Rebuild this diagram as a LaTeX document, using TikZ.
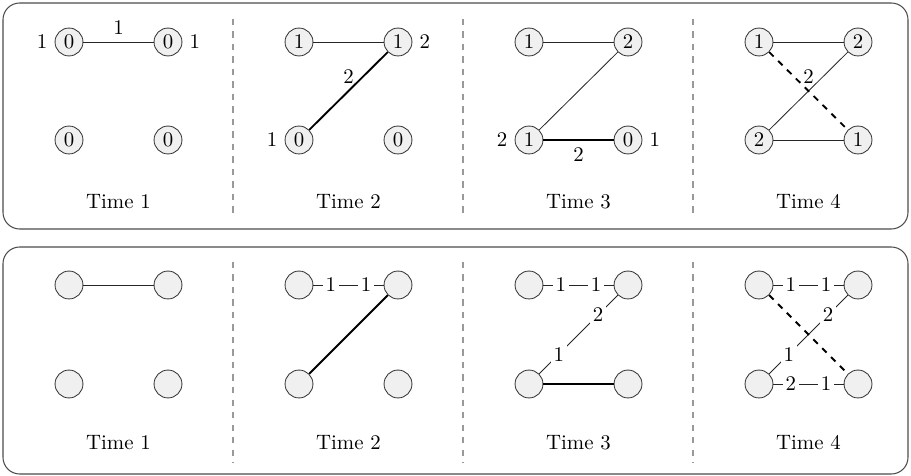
\documentclass[tikz,border=0pt]{standalone}
\usepackage{xcolor}
\usepackage{tikz}
\usetikzlibrary{positioning}

\begin{document}
\begin{tikzpicture}[
    x=0.48pt, y=-0.48pt,
    vnode/.style={circle, draw=black!80, fill=gray!12, minimum size=13.4pt, inner sep=0pt},
    frame/.style={draw=black!70, rounded corners=8pt, line width=0.5pt},
    sep/.style={draw=black!40, dashed, line width=0.5pt},
    edge/.style={draw=black!85, line width=0.4pt},
    active/.style={draw=black, line width=0.9pt},
    wlabel/.style={fill=white, inner sep=1.2pt}
]
\useasboundingbox (0,0) rectangle (911,476);

% frames and separators
\draw[frame] (3,3) rectangle (908,229);
\draw[frame] (3,247) rectangle (908,474);
\draw[sep] (233,19) -- (233,218);
\draw[sep] (463,19) -- (463,218);
\draw[sep] (693,19) -- (693,218);
\draw[sep] (233,262) -- (233,463);
\draw[sep] (463,262) -- (463,463);
\draw[sep] (693,262) -- (693,463);

% upper row: values
\node[vnode, label={left:1}] (p1tl) at (69,42) {0};
\node[vnode, label={right:1}] (p1tr) at (168,42) {0};
\node[vnode] (p1bl) at (69,140) {0};
\node[vnode] (p1br) at (168,140) {0};
\node (p1time) at (118.5,202) {Time 1};
\draw[edge] (p1tl) -- node[midway, above] {1} (p1tr);

\node[vnode] (p2tl) at (299,42) {1};
\node[vnode, label={right:2}] (p2tr) at (398,42) {1};
\node[vnode, label={left:1}] (p2bl) at (299,140) {0};
\node[vnode] (p2br) at (398,140) {0};
\node (p2time) at (348.5,202) {Time 2};
\draw[edge] (p2tl) -- (p2tr);
\draw[active] (p2tr) -- node[midway, above] {2} (p2bl);

\node[vnode] (p3tl) at (529,42) {1};
\node[vnode] (p3tr) at (628,42) {2};
\node[vnode, label={left:2}] (p3bl) at (529,140) {1};
\node[vnode, label={right:1}] (p3br) at (628,140) {0};
\node (p3time) at (578.5,202) {Time 3};
\draw[edge] (p3tl) -- (p3tr);
\draw[edge] (p3tr) -- (p3bl);
\draw[active] (p3bl) -- node[midway, below] {2} (p3br);

\node[vnode] (p4tl) at (759,42) {1};
\node[vnode] (p4tr) at (858,42) {2};
\node[vnode] (p4bl) at (759,140) {2};
\node[vnode] (p4br) at (858,140) {1};
\node (p4time) at (808.5,202) {Time 4};
\draw[edge] (p4tl) -- (p4tr);
\draw[edge] (p4tr) -- (p4bl);
\draw[edge] (p4bl) -- (p4br);
\draw[active, dashed] (p4tl) -- node[midway, above] {2} (p4br);

% lower row: ends
\node[vnode] (q1tl) at (69,285) {};
\node[vnode] (q1tr) at (168,285) {};
\node[vnode] (q1bl) at (69,384) {};
\node[vnode] (q1br) at (168,384) {};
\node (q1time) at (118.5,443) {Time 1};
\draw[edge] (q1tl) -- (q1tr);

\node[vnode] (q2tl) at (299,285) {};
\node[vnode] (q2tr) at (398,285) {};
\node[vnode] (q2bl) at (299,384) {};
\node[vnode] (q2br) at (398,384) {};
\node (q2time) at (348.5,443) {Time 2};
\draw[edge] (q2tl) -- node[wlabel, pos=0.25] {1} node[wlabel, pos=0.75] {1} (q2tr);
\draw[active] (q2tr) -- (q2bl);

\node[vnode] (q3tl) at (529,285) {};
\node[vnode] (q3tr) at (628,285) {};
\node[vnode] (q3bl) at (529,384) {};
\node[vnode] (q3br) at (628,384) {};
\node (q3time) at (578.5,443) {Time 3};
\draw[edge] (q3tl) -- node[wlabel, pos=0.25] {1} node[wlabel, pos=0.75] {1} (q3tr);
\draw[edge] (q3bl) -- node[wlabel, pos=0.25] {1} node[wlabel, pos=0.75] {2} (q3tr);
\draw[active] (q3bl) -- (q3br);

\node[vnode] (q4tl) at (759,285) {};
\node[vnode] (q4tr) at (858,285) {};
\node[vnode] (q4bl) at (759,384) {};
\node[vnode] (q4br) at (858,384) {};
\node (q4time) at (808.5,443) {Time 4};
\draw[edge] (q4tl) -- node[wlabel, pos=0.25] {1} node[wlabel, pos=0.75] {1} (q4tr);
\draw[edge] (q4bl) -- node[wlabel, pos=0.25] {2} node[wlabel, pos=0.75] {1} (q4br);
\draw[edge] (q4bl) -- node[wlabel, pos=0.25] {1} node[wlabel, pos=0.75] {2} (q4tr);
\draw[active, dashed] (q4tl) -- (q4br);
\end{tikzpicture}
\end{document}
